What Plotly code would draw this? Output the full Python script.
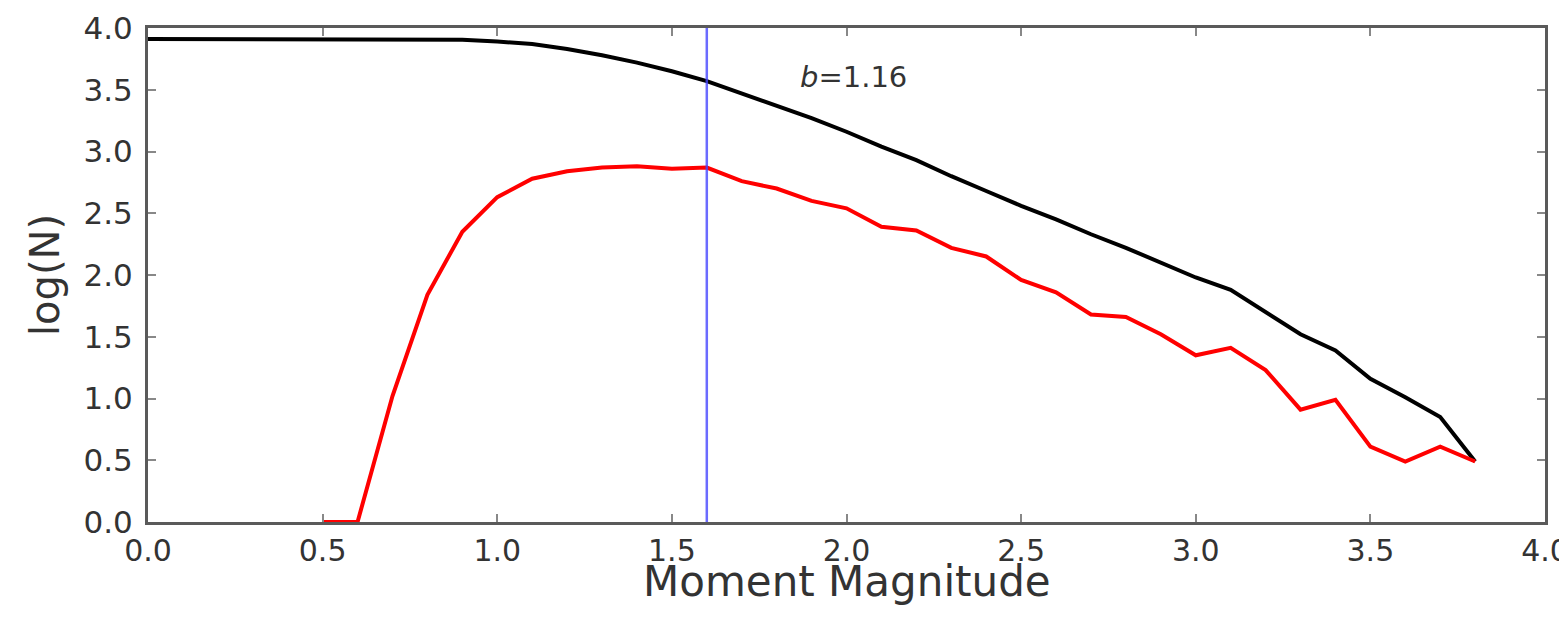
import plotly.graph_objects as go

mag_black = [round(0.1 * i, 1) for i in range(0, 39)]
logn_cum = [3.91, 3.91, 3.91, 3.91, 3.91, 3.91, 3.91, 3.91, 3.91, 3.905,
            3.89, 3.87, 3.83, 3.78, 3.72, 3.65, 3.57, 3.47, 3.37, 3.27,
            3.16, 3.04, 2.93, 2.80, 2.68, 2.56, 2.45, 2.33, 2.22, 2.10,
            1.98, 1.88, 1.70, 1.52, 1.39, 1.16, 1.01, 0.85, 0.49]

mag_red = [round(0.1 * i, 1) for i in range(5, 39)]
logn_inc = [0.0, 0.0, 1.02, 1.84, 2.35, 2.63, 2.78, 2.84, 2.87, 2.88,
            2.86, 2.87, 2.76, 2.70, 2.60, 2.54, 2.39, 2.36, 2.22, 2.15,
            1.96, 1.86, 1.68, 1.66, 1.52, 1.35, 1.41, 1.23, 0.91, 0.99,
            0.61, 0.49, 0.61, 0.49]

mc = 1.6
b_text = "<i>b</i>=1.16"
x_title = "Moment Magnitude"
y_title = "log(N)"

FONT = "DejaVu Sans"
TXT = "#333333"

fig = go.Figure()
fig.add_trace(go.Scatter(x=mag_black, y=logn_cum, mode="lines",
                         line=dict(color="black", width=4), showlegend=False))
fig.add_trace(go.Scatter(x=mag_red, y=logn_inc, mode="lines",
                         line=dict(color="#ff0000", width=4), showlegend=False))
fig.add_trace(go.Scatter(x=[mc, mc], y=[0, 4], mode="lines",
                         line=dict(color="rgba(70,70,255,0.8)", width=2.5), showlegend=False))

fig.add_annotation(x=1.86, y=3.6, text=b_text, showarrow=False, xanchor="left",
                   yanchor="middle", font=dict(size=29, color=TXT, family=FONT))

# axis titles placed as paper-anchored text
fig.add_annotation(x=0.5, y=0, xref="paper", yref="paper", text=x_title, showarrow=False,
                   xanchor="center", yanchor="middle", yshift=-59,
                   font=dict(size=42, color=TXT, family=FONT))
fig.add_annotation(x=0, y=0.5, xref="paper", yref="paper", text=y_title, showarrow=False,
                   xanchor="center", yanchor="middle", xshift=-103, textangle=-90,
                   font=dict(size=40, color=TXT, family=FONT))

tickvals = [0.0, 0.5, 1.0, 1.5, 2.0, 2.5, 3.0, 3.5, 4.0]
ticktext = ["0.0", "0.5", "1.0", "1.5", "2.0", "2.5", "3.0", "3.5", "4.0"]

axis_common = dict(showgrid=False, zeroline=False, showline=True, linecolor="#5a5a5a",
                   linewidth=3, mirror="ticks", ticks="inside", ticklen=8, tickwidth=1.5,
                   tickcolor="#888888", automargin=False)

fig.update_xaxes(range=[0, 4], tickvals=tickvals, ticktext=ticktext,
                 tickfont=dict(size=30, color=TXT, family=FONT), **axis_common)
fig.update_yaxes(range=[0, 4], tickvals=tickvals, ticktext=ticktext, ticklabelstandoff=6,
                 tickfont=dict(size=31, color=TXT, family=FONT), **axis_common)

fig.update_layout(width=1567, height=609, plot_bgcolor="white", paper_bgcolor="white",
                  margin=dict(l=140, r=30, t=20, b=95), showlegend=False)

fig.write_html("out.html")
